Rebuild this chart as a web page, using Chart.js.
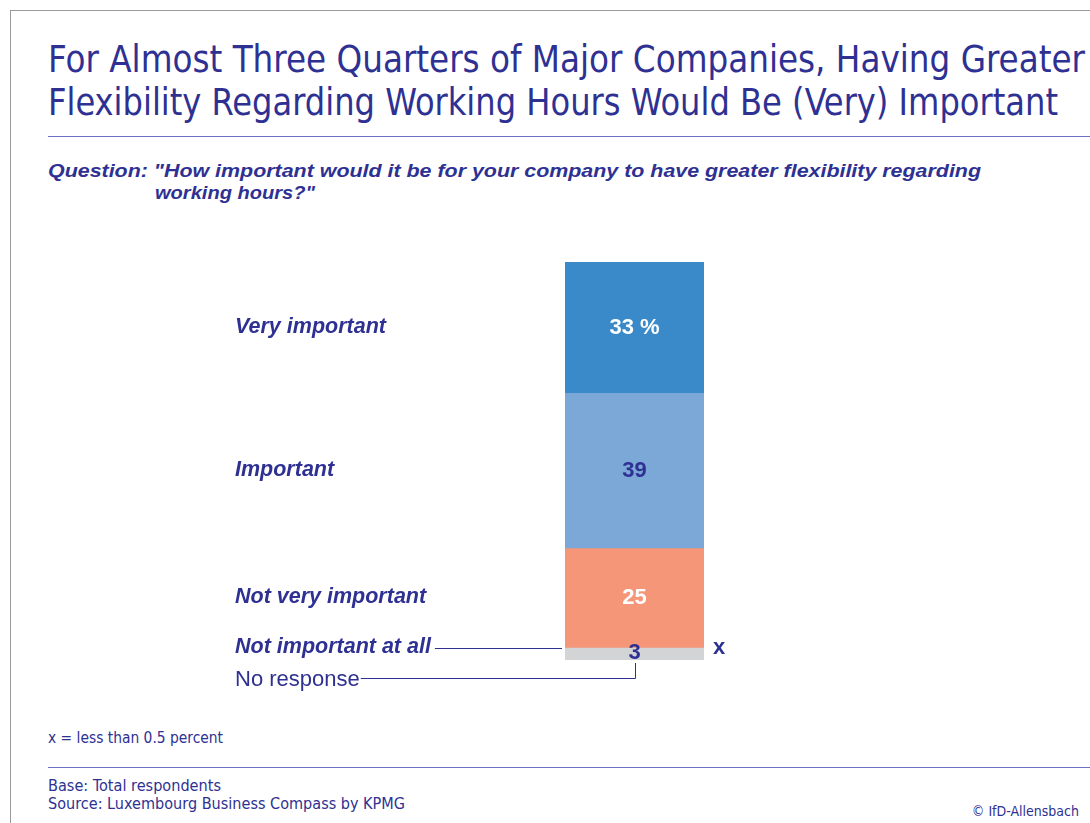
<!DOCTYPE html>
<html>
<head>
<meta charset="utf-8">
<script src="https://cdn.jsdelivr.net/npm/chart.js@4"></script>
<style>
	body { margin: 0; background: #fff; }
	#page { position: relative; width: 1090px; height: 823px; overflow: hidden;
		font-family: "Century Gothic", "Liberation Sans Narrow", "DejaVu Sans Condensed", sans-serif; color: #2e3192; }
	#frame { position: absolute; left: 10px; top: 10px; width: 1100px; height: 900px;
		border-left: 1px solid #9a9a9a; border-top: 1px solid #9a9a9a; }
	.txt { position: absolute; white-space: nowrap; transform-origin: left center; }
	.title { left: 48px; font-size: 37px; line-height: 44px; }
	.rule { position: absolute; left: 48px; right: 0; height: 0; border-top: 1.5px solid #6d6fc2; }
	.question { font-family: "Liberation Sans", sans-serif; font-size: 19px; font-weight: bold; font-style: italic; }
	.small { font-size: 15px; left: 48px; }
	#chart { position: absolute; left: 0; top: 0; }
</style>
</head>
<body>
<div id="page">
	<div id="frame"></div>
	<div class="txt title fit" data-w="1037" style="top:38px">For Almost Three Quarters of Major Companies, Having Greater</div>
	<div class="txt title fit" data-w="1010" style="top:81px">Flexibility Regarding Working Hours Would Be (Very) Important</div>
	<div class="rule" style="top:136px"></div>
	<div class="txt question fit" data-w="933" style="left:48px; top:160px">Question: "How important would it be for your company to have greater flexibility regarding</div>
	<div class="txt question fit" data-w="160" style="left:155px; top:182px">working hours?"</div>
	<div class="txt small fit" data-w="175" style="top:729px">x = less than 0.5 percent</div>
	<div class="rule" style="top:767px"></div>
	<div class="txt small fit" data-w="173" style="top:777px">Base: Total respondents</div>
	<div class="txt small fit" data-w="357" style="top:795px">Source: Luxembourg Business Compass by KPMG</div>
	<div class="txt small" style="left:auto; right:11px; top:803px; font-size:14px">© IfD-Allensbach</div>
	<canvas id="chart" width="1090" height="823"></canvas>
</div>
<script>
// antworter per kategori, uppifrån och ned i stapeln
var categories = ['Very important', 'Important', 'Not very important', 'Not important at all', 'No response'];
var values = [33, 39, 25, 0, 3];
var value_labels = ['33 %', '39', '25', 'x', '3'];
var colors = ['#3a8ac9', '#7ca8d8', '#f49677', '#f49677', '#d3d4d6'];
var label_colors = ['#ffffff', '#2e3192', '#ffffff', '#2e3192', '#2e3192'];

var BLUE = '#2e3192';

// trycker ihop texterna till rätt bredd
document.querySelectorAll('.fit').forEach(function(el){
	var w = el.getBoundingClientRect().width;
	el.style.transform = 'scaleX(' + (el.dataset.w / w) + ')';
});

/**
 * Ritar etiketter till vänster och värden i stapeln
 */
var label_plugin = {
	id: 'segment_labels',
	afterDatasetsDraw: function(chart)
	{
		var ctx = chart.ctx;
		var n = categories.length;
		ctx.save();
		ctx.textBaseline = 'middle';

		for(var i = 0; i < n; i++)
		{
			//dataset-index är omvänd ordning (nedersta först)
			var bar = chart.getDatasetMeta(n - 1 - i).data[0];
			var top = Math.min(bar.y, bar.base);
			var bottom = Math.max(bar.y, bar.base);
			var mid = (top + bottom) / 2;
			var left = bar.x - bar.width / 2;
			var right = bar.x + bar.width / 2;

			//kategori-etikett
			var label_y = mid - 1;
			if(i == 4)
				label_y = bottom + 20;
			ctx.textAlign = 'left';
			ctx.fillStyle = BLUE;
			ctx.font = (i == 4 ? '22px ' : 'italic bold 21.5px ') + '"Liberation Sans", sans-serif';
			ctx.fillText(categories[i], 235, label_y);
			var text_end = 235 + ctx.measureText(categories[i]).width;

			ctx.strokeStyle = BLUE;
			ctx.lineWidth = 1;
			if(i == 3)
			{
				//linje fram till stapeln
				ctx.beginPath();
				ctx.moveTo(text_end + 4, Math.round(mid) + 0.5);
				ctx.lineTo(left - 3, Math.round(mid) + 0.5);
				ctx.stroke();
			}
			if(i == 4)
			{
				//linje under till värdet
				ctx.beginPath();
				ctx.moveTo(text_end + 1, Math.round(label_y - 2) + 0.5);
				ctx.lineTo(Math.round(bar.x) + 0.5, Math.round(label_y - 2) + 0.5);
				ctx.lineTo(Math.round(bar.x) + 0.5, bottom + 3);
				ctx.stroke();
			}

			//värde
			ctx.font = 'bold 22px "Liberation Sans", sans-serif';
			ctx.fillStyle = label_colors[i];
			if(values[i] == 0)
			{
				ctx.textAlign = 'left';
				ctx.fillText(value_labels[i], right + 9, mid);
			}
			else
			{
				ctx.textAlign = 'center';
				ctx.fillText(value_labels[i], bar.x, i == 4 ? mid - 1 : mid);
			}
		}
		ctx.restore();
	}
};

var datasets = [];
for(var i = categories.length - 1; i >= 0; i--)
{
	datasets.push({
		label: categories[i],
		data: [values[i]],
		backgroundColor: colors[i],
		borderWidth: 0,
		barPercentage: 1,
		categoryPercentage: 1
	});
}

new Chart(document.getElementById('chart'), {
	type: 'bar',
	data: { labels: [''], datasets: datasets },
	options: {
		responsive: false,
		animation: false,
		layout: { padding: { left: 565, right: 386, top: 262, bottom: 163 } },
		plugins: { legend: { display: false }, tooltip: { enabled: false } },
		scales: {
			x: { stacked: true, display: false },
			y: { stacked: true, display: false, min: 0, max: 100 }
		}
	},
	plugins: [label_plugin]
});
</script>
</body>
</html>
